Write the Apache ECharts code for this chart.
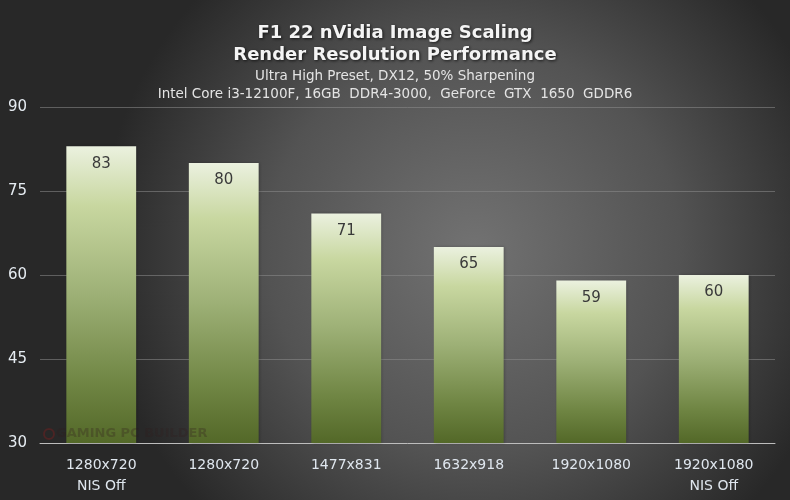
<!DOCTYPE html>
<html><head><meta charset="utf-8">
<script src="https://cdn.jsdelivr.net/npm/echarts@6/dist/echarts.min.js"></script>
<style>html,body{margin:0;padding:0;background:#444}#c{width:790px;height:500px}</style>
</head><body><div id="c"></div>
<script>
var categories = ['1280x720\nNIS Off','1280x720','1477x831','1632x918','1920x1080','1920x1080\nNIS Off'];
var fps = [83,80,71,65,59,60];
var yTicks = [30,45,60,75,90];
var titleLines = ['F1 22 nVidia Image Scaling','Render Resolution Performance'];
var subLines = ['Ultra High Preset, DX12, 50% Sharpening','Intel Core i3-12100F, 16GB  DDR4-3000,  GeForce  GTX  1650  GDDR6'];

var font = 'DejaVu Sans';
var chart = echarts.init(document.getElementById('c'));
chart.setOption({
  backgroundColor: {type:'radial', x:0.6, y:0.5, r:0.75, colorStops:[{offset:0,color:'#727272'},{offset:0.55,color:'#535353'},{offset:1,color:'#282828'}]},
  title: [
    {text: titleLines.join('\n'), left:'center', top:17, textStyle:{color:'#f4f4f4', fontFamily:font, fontSize:18, fontWeight:'bold', lineHeight:22, textShadowColor:'rgba(0,0,0,0.7)', textShadowBlur:3, textShadowOffsetX:1, textShadowOffsetY:1}},
    {text: subLines.join('\n'), left:'center', top:62, textStyle:{color:'#e4e4e4', fontFamily:font, fontSize:13.5, fontWeight:'normal', lineHeight:18}}
  ],
  grid: {left:40, right:15, top:107, bottom:57},
  xAxis: {type:'category', data:categories,
    axisLine:{lineStyle:{color:'#bdbdbd', width:1}}, axisTick:{show:false},
    axisLabel:{color:'#dfe6ee', fontFamily:font, fontSize:14, lineHeight:21, margin:12}},
  yAxis: {type:'value', min:30, max:90, interval:15,
    axisLine:{show:false}, axisTick:{show:false},
    splitLine:{lineStyle:{color:'rgba(140,140,140,0.55)', width:1}},
    axisLabel:{color:'#e6ecf2', fontFamily:font, fontSize:15, align:'left', margin:32,
      formatter:function(v){return yTicks.indexOf(v)>=0?String(v):'';}}},
  series: [{type:'bar', data:fps, barWidth:'57%',
    itemStyle:{color:{type:'linear',x:0,y:0,x2:0,y2:1,colorStops:[{offset:0,color:'#ebf1df'},{offset:0.2,color:'#c8d7a0'},{offset:0.5,color:'#9db076'},{offset:0.8,color:'#6f8543'},{offset:1,color:'#536828'}]},
      shadowColor:'rgba(0,0,0,0.25)', shadowBlur:3, shadowOffsetX:1, shadowOffsetY:0},
    label:{show:true, position:'insideTop', distance:10, color:'#3a3a3a', fontFamily:font, fontSize:15}
  }],
  graphic: [
    {type:'circle', z:100, shape:{cx:49, cy:434, r:5}, style:{fill:'none', stroke:'rgba(120,30,30,0.45)', lineWidth:2}},
    {type:'text', z:100, x:56, y:427, style:{text:'GAMING PC BUILDER', fill:'rgba(50,30,30,0.3)', font:'bold 13px '+font}}
  ]
});
</script></body></html>
